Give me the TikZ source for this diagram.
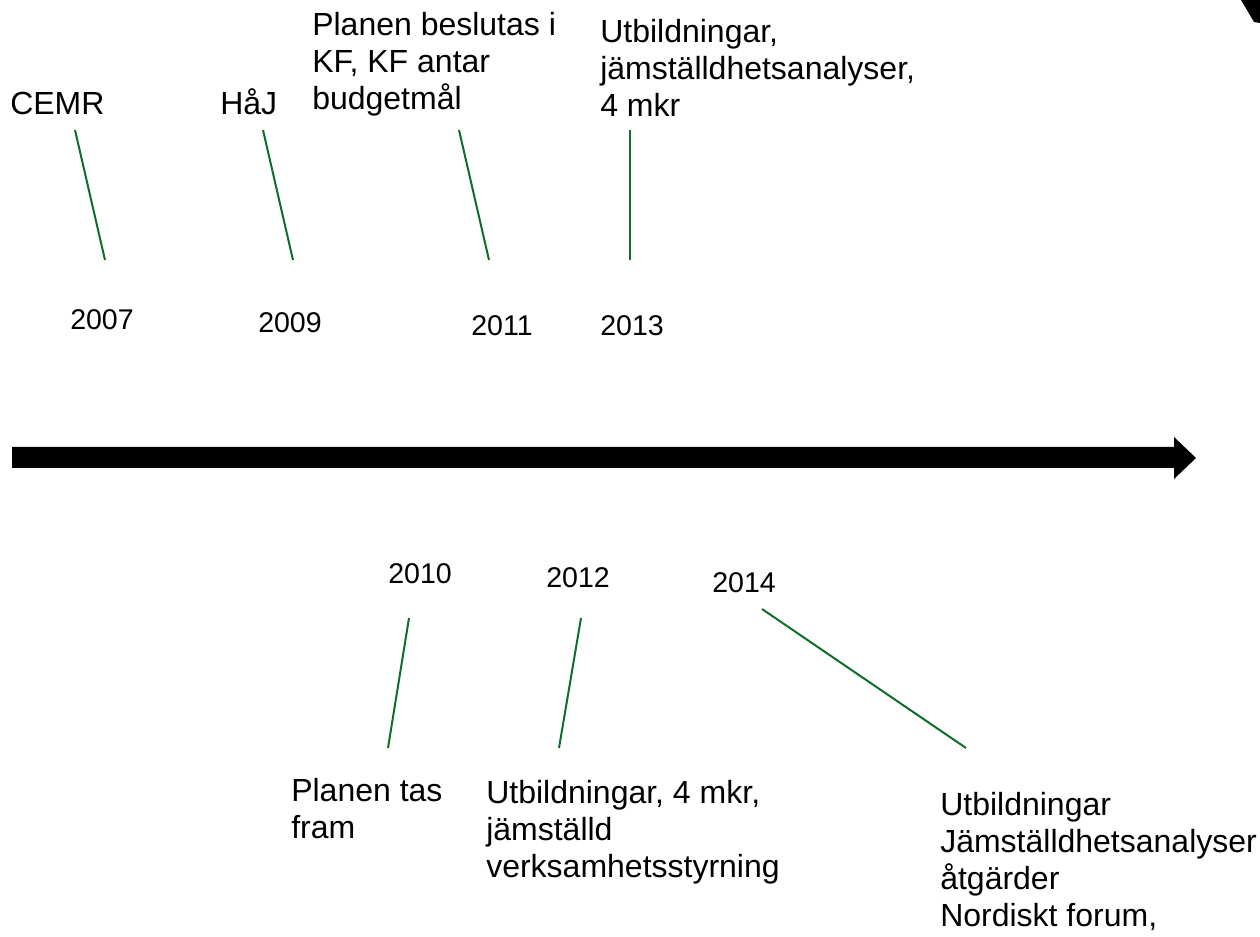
\documentclass[tikz,border=0pt]{standalone}
\usepackage{fontspec}
\setmainfont{Liberation Sans}
\definecolor{lngreen}{RGB}{16,110,40}
\begin{document}
\begin{tikzpicture}[x=0.75pt,y=-0.75pt,
  lbl/.style={anchor=base west,inner sep=0pt,align=left,font=\fontsize{24}{27.75}\selectfont},
  yr/.style={anchor=base west,inner sep=0pt,font=\fontsize{21.4}{25}\selectfont},
  tick/.style={draw=lngreen,line width=1.5pt}]
\useasboundingbox (0,0) rectangle (1260,937);
% corner fragment
\fill[black] (1241,0) -- (1260,0) -- (1260,23) -- (1254,22) -- cycle;
% main arrow
\fill[black] (12,447) -- (1174,447) -- (1174,437) -- (1196,458) -- (1174,479) -- (1174,468) -- (12,468) -- cycle;
% top labels (base anchor = baseline of last line)
\node[lbl] (cemr) at (10,115) {CEMR};
\node[lbl] (haj) at (220,115) {HåJ};
\node[lbl] (plan) at (312,110) {Planen beslutas i\\KF, KF antar\\budgetmål};
\node[lbl] (utb13) at (600,117) {Utbildningar,\\jämställdhetsanalyser,\\4 mkr};
% top years
\node[yr] (y07) at (70,330) {2007};
\node[yr] (y09) at (258,333) {2009};
\node[yr] (y11) at (471,336) {2011};
\node[yr] (y13) at (600,336) {2013};
% top ticks
\coordinate (a1) at (75,130); \coordinate (b1) at (105,260);
\coordinate (a2) at (263,130); \coordinate (b2) at (293,260);
\coordinate (a3) at (459,130); \coordinate (b3) at (489,260);
\coordinate (a4) at (630,130); \coordinate (b4) at (630,260);
\draw[tick] (a1) -- (b1);
\draw[tick] (a2) -- (b2);
\draw[tick] (a3) -- (b3);
\draw[tick] (a4) -- (b4);
% bottom years
\node[yr] (y10) at (388,583) {2010};
\node[yr] (y12) at (546,587) {2012};
\node[yr] (y14) at (712,592) {2014};
% bottom ticks
\coordinate (c1) at (409,618); \coordinate (d1) at (388,748);
\coordinate (c2) at (581,618); \coordinate (d2) at (559,748);
\coordinate (c3) at (762,609); \coordinate (d3) at (966,748);
\draw[tick] (c1) -- (d1);
\draw[tick] (c2) -- (d2);
\draw[tick] (c3) -- (d3);
% bottom labels
\node[lbl] (plantas) at (291,838) {Planen tas\\fram};
\node[lbl] (utb12) at (486,877) {Utbildningar, 4 mkr,\\jämställd\\verksamhetsstyrning};
\node[lbl] (utb14) at (940,926) {Utbildningar\\Jämställdhetsanalyser\\åtgärder\\Nordiskt forum,};
\end{tikzpicture}
\end{document}
